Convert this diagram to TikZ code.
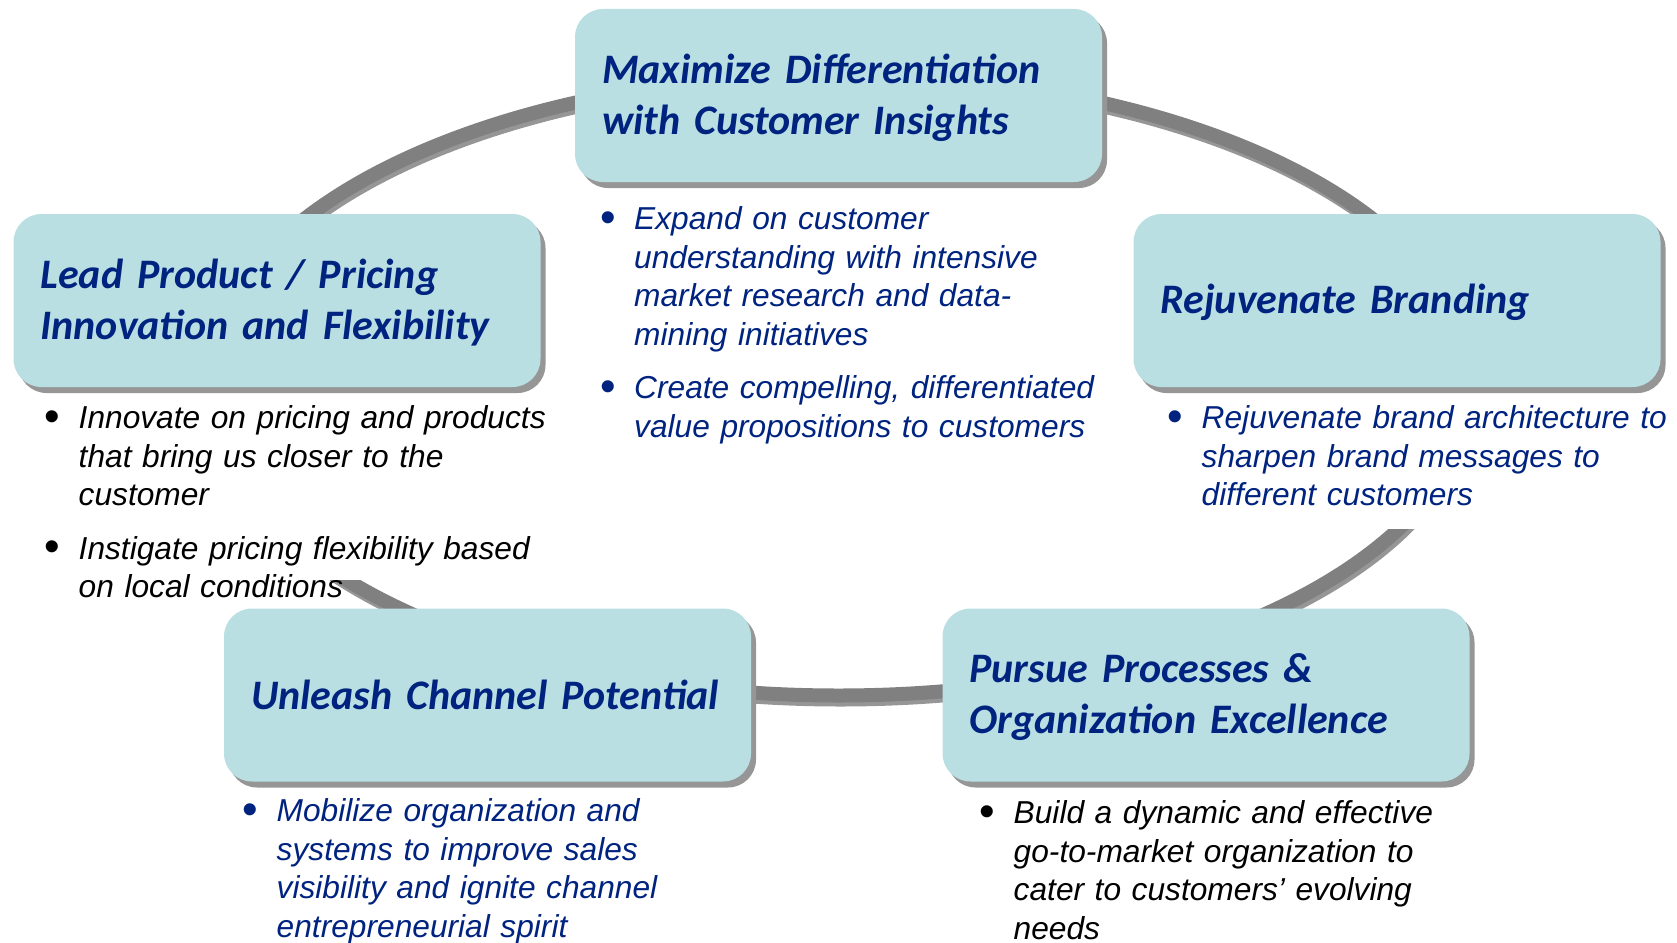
\documentclass[tikz,border=0pt]{standalone}
\usepackage{fontspec}
\usepackage{graphicx}
\setmainfont{Liberation Sans}
\newfontfamily\carlito{Carlito}
\usepackage{tikz}
\usetikzlibrary{shadows, positioning}
\definecolor{boxcyan}{RGB}{185,223,227}
\definecolor{navy}{RGB}{0,35,128}
\definecolor{ringgray}{RGB}{128,128,128}
\definecolor{shadegray}{RGB}{150,150,150}
\tikzset{
  goal/.style = {fill=boxcyan, rounded corners=28pt, minimum width=527pt, minimum height=173pt, inner sep=0pt,
    drop shadow={shadow xshift=5pt, shadow yshift=-6pt, fill=shadegray, opacity=1}},
  goaltitle/.style = {text width=473pt, align=left, inner sep=0pt, text=navy, yshift=-2pt,
    font=\carlito\bfseries\itshape\fontsize{42pt}{51pt}\selectfont},
  points/.style = {anchor=north west, text width=570pt, align=left, inner sep=0pt,
    font=\itshape\fontsize{31.7pt}{38.5pt}\selectfont}
}
\newcommand\bulletpoint[1]{\par\noindent\hangindent=32pt\hangafter=1\makebox[32pt][l]{\hspace{-2pt}\raisebox{-2.5pt}{\scalebox{1.4}{\upshape\textbullet}}}\strut#1\par}
\newcommand\bulletgap{\par\vspace{15pt}}

\begin{document}
\begin{tikzpicture}[x=1pt, y=-1pt]
  \useasboundingbox (0,0) rectangle (1677,942);

  % the ring behind everything
  \draw[shadegray, line width=14pt] (840.5,389) ellipse [x radius=632, y radius=310.5];
  \draw[ringgray, line width=14pt] (838.5,385) ellipse [x radius=632, y radius=310.5];

  % white text areas cover the ring
  \fill[white] (40,389) rectangle (560,580);
  \fill[white] (1160,389) rectangle (1677,529);

  \node[goal] (insight) at (838.5,95.5) {};
  \node[goal] (pricing) at (277,300.5) {};
  \node[goal] (branding) at (1397,300.5) {};
  \node[goal] (channel) at (487.5,695) {};
  \node[goal] (process) at (1206,695) {};

  \node[goaltitle] (insight-title) at (insight.center) {Maximize Differentiation\\with Customer Insights};
  \node[goaltitle] (pricing-title) at (pricing.center) {Lead Product / Pricing\\Innovation and Flexibility};
  \node[goaltitle] (branding-title) at (branding.center) {Rejuvenate Branding};
  \node[goaltitle, yshift=2pt] (channel-title) at (channel.center) {Unleash Channel Potential};
  \node[goaltitle] (process-title) at (process.center) {Pursue Processes \&\\Organization Excellence};

  \node[points, text=navy] (insight-points) at (602,191) {%
    \bulletpoint{Expand on customer\newline understanding with intensive\newline market research and data-\newline mining initiatives}
    \bulletgap
    \bulletpoint{Create compelling, differentiated\newline value propositions to customers}};
  \node[points, text=black] (pricing-points) at (46.5,390) {%
    \bulletpoint{Innovate on pricing and products\newline that bring us closer to the\newline customer}
    \bulletgap
    \bulletpoint{Instigate pricing flexibility based\newline on local conditions}};
  \node[points, text=navy] (branding-points) at (1169.5,390) {%
    \bulletpoint{Rejuvenate brand architecture to\newline sharpen brand messages to\newline different customers}};
  \node[points, text=navy] (channel-points) at (244.5,783) {%
    \bulletpoint{Mobilize organization and\newline systems to improve sales\newline visibility and ignite channel\newline entrepreneurial spirit}};
  \node[points, text=black] (process-points) at (981.5,785) {%
    \bulletpoint{Build a dynamic and effective\newline go-to-market organization to\newline cater to customers’ evolving\newline needs}};
\end{tikzpicture}
\end{document}
